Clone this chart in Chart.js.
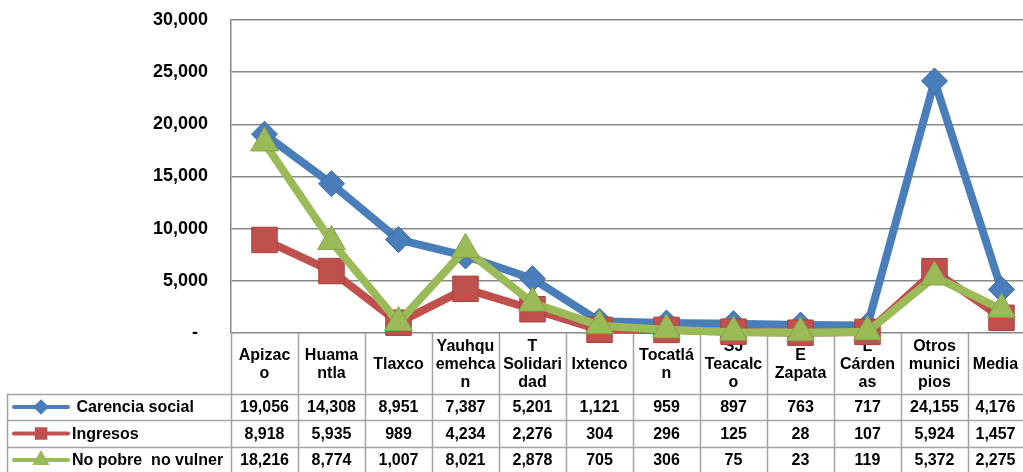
<!DOCTYPE html>
<html>
<head>
<meta charset="utf-8">
<script src="https://cdn.jsdelivr.net/npm/chart.js@4.4.1/dist/chart.umd.min.js"></script>
<style>
  html, body { margin: 0; padding: 0; background: #fff; overflow: hidden; }
  #wrap { width: 1040px; height: 472px; }
</style>
</head>
<body>
<div id="wrap"><canvas id="chart" width="1040" height="472"></canvas></div>
<script>
// categories as they wrap in the table header
const categories = [
  ["Apizac", "o"], ["Huama", "ntla"], ["Tlaxco"], ["Yauhqu", "emehca", "n"],
  ["T", "Solidari", "dad"], ["Ixtenco"], ["Tocatlá", "n"], ["SJ", "Teacalc", "o"],
  ["E", "Zapata"], ["L", "Cárden", "as"], ["Otros", "munici", "pios"], ["Media"]
];
const seriesNames = [" Carencia social", "Ingresos", "No pobre  no vulner"];
const carenciaSocial = [19056, 14308, 8951, 7387, 5201, 1121, 959, 897, 763, 717, 24155, 4176];
const ingresos = [8918, 5935, 989, 4234, 2276, 304, 296, 125, 28, 107, 5924, 1457];
const noPobre = [18216, 8774, 1007, 8021, 2878, 705, 306, 75, 23, 119, 5372, 2275];
const yMax = 30000;
const yStep = 5000;

const colors = ["#4a7ebb", "#c0504d", "#9bbb59"];
const markerBorders = ["#3c6aa3", "#a8403d", "#86a447"];
const styles = ["rectRot", "rect", "triangle"];
const allSeries = [carenciaSocial, ingresos, noPobre];

const FONT = '"Liberation Sans", Arial, sans-serif';
const VISIBLE_W = 1023;
const fmt = v => v.toLocaleString("en-US");

// data table under the plot, drawn from the x scale positions
const tablePlugin = {
  id: "dataTable",
  beforeDatasetsDraw(chart) {
    const ctx = chart.ctx;
    const xs = chart.scales.x;
    const area = chart.chartArea;
    const colW = (area.right - area.left) / categories.length;
    const headTop = area.bottom;
    const rows = [394, 420, 447, 473];
    const leftEdge = 7;
    // the last column runs past the window, so its text sits in the visible part
    const textX = i => {
      const c = xs.getPixelForValue(i);
      const left = c - colW / 2;
      return c + colW / 2 > VISIBLE_W ? (left + VISIBLE_W) / 2 : c;
    };

    ctx.save();
    ctx.strokeStyle = "#a3a3a3";
    ctx.lineWidth = 1.5;
    ctx.beginPath();
    for (let i = 0; i <= categories.length; i++) {
      const x = Math.round(xs.getPixelForValue(0) - colW / 2 + i * colW) + 0.5;
      ctx.moveTo(x, headTop);
      ctx.lineTo(x, 472);
    }
    rows.slice(0, 3).forEach(y => {
      ctx.moveTo(leftEdge, y + 0.5);
      ctx.lineTo(area.right, y + 0.5);
    });
    ctx.moveTo(leftEdge + 0.5, rows[0]);
    ctx.lineTo(leftEdge + 0.5, 472);
    ctx.stroke();

    ctx.fillStyle = "#000";
    ctx.font = "bold 16px " + FONT;
    ctx.textAlign = "center";
    ctx.textBaseline = "middle";
    const headMid = (headTop + rows[0]) / 2 + 1;
    categories.forEach((lines, i) => {
      lines.forEach((t, j) => {
        ctx.fillText(t, textX(i), headMid + (j - (lines.length - 1) / 2) * 18);
      });
    });

    allSeries.forEach((vals, r) => {
      const y = (rows[r] + rows[r + 1]) / 2 + 1;
      vals.forEach((v, i) => ctx.fillText(fmt(v), textX(i), y));

      // legend key
      ctx.strokeStyle = colors[r];
      ctx.lineWidth = 4;
      ctx.lineCap = "round";
      ctx.beginPath();
      ctx.moveTo(14, y - 1);
      ctx.lineTo(68, y - 1);
      ctx.stroke();
      ctx.fillStyle = colors[r];
      ctx.strokeStyle = colors[r];
      Chart.helpers.drawPoint(ctx, {
        pointStyle: styles[r], radius: r === 0 ? 5 : 6, rotation: 0, borderWidth: 1
      }, 41, y - 1);
      ctx.fillStyle = "#000";
      ctx.textAlign = "left";
      ctx.fillText(seriesNames[r], 72, y);
      ctx.textAlign = "center";
    });
    ctx.restore();
  }
};

const ctx = document.getElementById("chart").getContext("2d");
new Chart(ctx, {
  type: "line",
  data: {
    labels: categories.map(c => c.join("")),
    datasets: allSeries.map((vals, i) => ({
      label: seriesNames[i].trim(),
      data: vals,
      borderColor: colors[i],
      backgroundColor: colors[i],
      borderWidth: 8,
      borderJoinStyle: "round",
      tension: 0,
      pointStyle: styles[i],
      pointRadius: [13, 18, 16][i],
      pointBackgroundColor: colors[i],
      pointBorderColor: markerBorders[i],
      pointBorderWidth: 1,
      order: 3 - i,
      clip: false
    }))
  },
  options: {
    responsive: false,
    animation: false,
    devicePixelRatio: 1,
    layout: { autoPadding: false, padding: { left: 0, top: 20, right: 5, bottom: 139 } },
    plugins: { legend: { display: false }, tooltip: { enabled: false } },
    scales: {
      x: { display: false, offset: true },
      y: {
        min: 0,
        max: yMax,
        afterFit: s => { s.width = 231; },
        ticks: {
          stepSize: yStep,
          padding: 0,
          color: "#000",
          font: { family: FONT, size: 18, weight: "bold" },
          callback: v => (v === 0 ? "-  " : fmt(v))
        },
        grid: { color: "#888", lineWidth: 1.5, drawTicks: true, tickLength: 23, tickColor: "rgba(0,0,0,0)" },
        border: { color: "#888", width: 1.5 }
      }
    }
  },
  plugins: [tablePlugin]
});
</script>
</body>
</html>
